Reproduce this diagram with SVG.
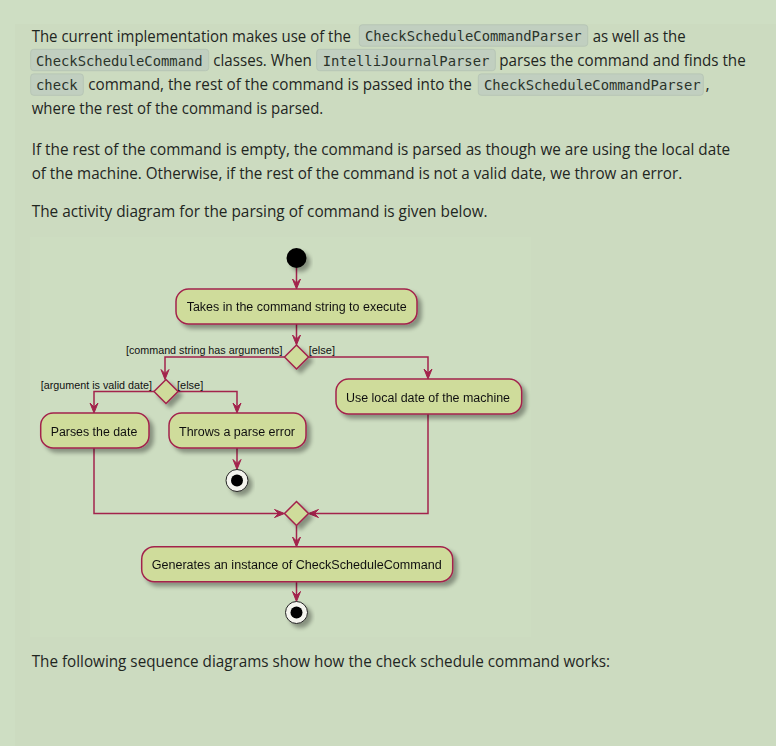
<svg xmlns="http://www.w3.org/2000/svg" width="776" height="746" viewBox="0 0 776 746">
<defs>
<style>
.body{font-family:"Open Sans","Noto Sans","DejaVu Sans",sans-serif;font-size:16px;fill:#1f261f}
.code{font-family:"DejaVu Sans Mono","Liberation Mono",monospace;font-size:13.85px;fill:#2a332a}
.cbox{fill:#c1cfc0;stroke:#b7c6b6;stroke-width:1}
.node{fill:#cfdc9b;stroke:#a3234c;stroke-width:1.5}
.lbl{font-family:"Liberation Sans","Arial",sans-serif;font-size:12.5px;fill:#111}
.glbl{font-family:"Liberation Sans","Arial",sans-serif;font-size:11px;fill:#111}
.edge{fill:none;stroke:#a3234c;stroke-width:1.5}
.head{fill:#a3234c;stroke:#a3234c;stroke-width:1}
</style>
<filter id="sh" x="-20%" y="-20%" width="150%" height="160%">
<feGaussianBlur in="SourceAlpha" stdDeviation="2"/>
<feOffset dx="4" dy="4" result="b"/>
<feComponentTransfer><feFuncA type="linear" slope="0.35"/></feComponentTransfer>
<feMerge><feMergeNode/><feMergeNode in="SourceGraphic"/></feMerge>
</filter>
</defs>
<rect x="0" y="0" width="776" height="746" fill="#cedec3"/>
<rect x="15" y="24" width="761" height="722" fill="#ccdbc0"/>

<g id="text">
<text class="body" x="31.7" y="41.5" textLength="319.3" lengthAdjust="spacingAndGlyphs">The current implementation makes use of the</text>
<rect class="cbox" x="359.3" y="24.8" width="228.4" height="21.4" rx="3"/>
<text class="code" x="365" y="41.3" textLength="216.6" lengthAdjust="spacingAndGlyphs">CheckScheduleCommandParser</text>
<text class="body" x="592.7" y="41.5" textLength="93" lengthAdjust="spacingAndGlyphs">as well as the</text>

<rect class="cbox" x="30.7" y="49.3" width="178" height="21.4" rx="3"/>
<text class="code" x="36" y="65.6" textLength="166.7" lengthAdjust="spacingAndGlyphs">CheckScheduleCommand</text>
<text class="body" x="213.3" y="65.8" textLength="98.4" lengthAdjust="spacingAndGlyphs">classes. When</text>
<rect class="cbox" x="316.7" y="49.3" width="178.6" height="21.4" rx="3"/>
<text class="code" x="322.7" y="65.6" textLength="166.7" lengthAdjust="spacingAndGlyphs">IntelliJournalParser</text>
<text class="body" x="499.3" y="65.8" textLength="246.4" lengthAdjust="spacingAndGlyphs">parses the command and finds the</text>

<rect class="cbox" x="30.7" y="73.9" width="52.6" height="21.4" rx="3"/>
<text class="code" x="36" y="90" textLength="41.7" lengthAdjust="spacingAndGlyphs">check</text>
<text class="body" x="88.3" y="90.1" textLength="383.4" lengthAdjust="spacingAndGlyphs">command, the rest of the command is passed into the</text>
<rect class="cbox" x="478.3" y="73.9" width="225" height="21.4" rx="3"/>
<text class="code" x="484" y="90" textLength="216.6" lengthAdjust="spacingAndGlyphs">CheckScheduleCommandParser</text>
<text class="body" x="705.5" y="90.1">,</text>

<text class="body" x="31.7" y="114.4" textLength="291.6" lengthAdjust="spacingAndGlyphs">where the rest of the command is parsed.</text>

<text class="body" x="31.7" y="154.8" textLength="698.5" lengthAdjust="spacingAndGlyphs">If the rest of the command is empty, the command is parsed as though we are using the local date</text>
<text class="body" x="31.7" y="178.6" textLength="650.5" lengthAdjust="spacingAndGlyphs">of the machine. Otherwise, if the rest of the command is not a valid date, we throw an error.</text>
<text class="body" x="31.7" y="217" textLength="455.9" lengthAdjust="spacingAndGlyphs">The activity diagram for the parsing of command is given below.</text>
<text class="body" x="31.7" y="667" textLength="578.3" lengthAdjust="spacingAndGlyphs">The following sequence diagrams show how the check schedule command works:</text>
</g>

<rect x="30" y="237" width="501" height="400" fill="#cdddc1"/>

<g id="connectors">
<path class="edge" d="M296.5 268 V287"/>
<polygon class="head" points="292.5,279 296.5,289 300.5,279 296.5,283"/>
<path class="edge" d="M296.5 324 V343"/>
<polygon class="head" points="292.5,335 296.5,345 300.5,335 296.5,339"/>
<path class="edge" d="M284.5 357 H165 V378"/>
<polygon class="head" points="161,369.5 165,379.5 169,369.5 165,373.5"/>
<path class="edge" d="M308.5 357 H428 V377"/>
<polygon class="head" points="424,369 428,379 432,369 428,373"/>
<path class="edge" d="M154 391.5 H94 V411"/>
<polygon class="head" points="90,403 94,413 98,403 94,407"/>
<path class="edge" d="M178 391.5 H237 V411"/>
<polygon class="head" points="233,403 237,413 241,403 237,407"/>
<path class="edge" d="M237 448 V467"/>
<polygon class="head" points="233,459.5 237,469.5 241,459.5 237,463.5"/>
<path class="edge" d="M94 448 V513.5 H283"/>
<polygon class="head" points="274.5,509.5 284.5,513.5 274.5,517.5 278.5,513.5"/>
<path class="edge" d="M428 414 V513.5 H310"/>
<polygon class="head" points="318.5,509.5 308.5,513.5 318.5,517.5 314.5,513.5"/>
<path class="edge" d="M296.5 525.5 V545"/>
<polygon class="head" points="292.5,537 296.5,547 300.5,537 296.5,541"/>
<path class="edge" d="M296.5 581.7 V599.5"/>
<polygon class="head" points="292.5,591.5 296.5,601.5 300.5,591.5 296.5,595.5"/>
</g>

<g id="guards">
<text class="glbl" x="282.5" y="354.3" text-anchor="end" textLength="156.6" lengthAdjust="spacingAndGlyphs">[command string has arguments]</text>
<text class="glbl" x="308.7" y="354.3" textLength="26.3" lengthAdjust="spacingAndGlyphs">[else]</text>
<text class="glbl" x="152" y="388.7" text-anchor="end" textLength="111.3" lengthAdjust="spacingAndGlyphs">[argument is valid date]</text>
<text class="glbl" x="177" y="388.7" textLength="26.3" lengthAdjust="spacingAndGlyphs">[else]</text>
</g>

<g id="start" filter="url(#sh)"><circle cx="296.5" cy="258" r="10" fill="#000"/></g>

<g id="takes" filter="url(#sh)">
<rect class="node" x="176" y="289" width="241" height="35" rx="12.5"/>
<text class="lbl" x="186.7" y="311" textLength="220" lengthAdjust="spacingAndGlyphs">Takes in the command string to execute</text>
</g>

<g id="decision1" filter="url(#sh)"><polygon class="node" points="296.5,345 308.5,357 296.5,369 284.5,357"/></g>

<g id="decision2" filter="url(#sh)"><polygon class="node" points="166,379.5 178,391.5 166,403.5 154,391.5"/></g>

<g id="uselocal" filter="url(#sh)">
<rect class="node" x="336" y="379" width="185.7" height="35" rx="12.5"/>
<text class="lbl" x="346" y="401.5" textLength="164" lengthAdjust="spacingAndGlyphs">Use local date of the machine</text>
</g>

<g id="parses" filter="url(#sh)">
<rect class="node" x="40.7" y="413" width="108.3" height="35" rx="12.5"/>
<text class="lbl" x="50.7" y="435.5" textLength="86.6" lengthAdjust="spacingAndGlyphs">Parses the date</text>
</g>

<g id="throws" filter="url(#sh)">
<rect class="node" x="169" y="413" width="137" height="35" rx="12.5"/>
<text class="lbl" x="179" y="435.5" textLength="116" lengthAdjust="spacingAndGlyphs">Throws a parse error</text>
</g>

<g id="end1" filter="url(#sh)">
<circle cx="237" cy="480.5" r="11" fill="#f4f4ee" stroke="#222" stroke-width="1"/>
<circle cx="237" cy="480.5" r="6" fill="#000"/>
</g>

<g id="merge" filter="url(#sh)"><polygon class="node" points="296.5,501.5 308.5,513.5 296.5,525.5 284.5,513.5"/></g>

<g id="generates" filter="url(#sh)">
<rect class="node" x="141.7" y="546.7" width="311" height="35" rx="12.5"/>
<text class="lbl" x="151.7" y="569" textLength="290" lengthAdjust="spacingAndGlyphs">Generates an instance of CheckScheduleCommand</text>
</g>

<g id="end2" filter="url(#sh)">
<circle cx="296.5" cy="612.5" r="11" fill="#f4f4ee" stroke="#222" stroke-width="1"/>
<circle cx="296.5" cy="612.5" r="6" fill="#000"/>
</g>
</svg>
